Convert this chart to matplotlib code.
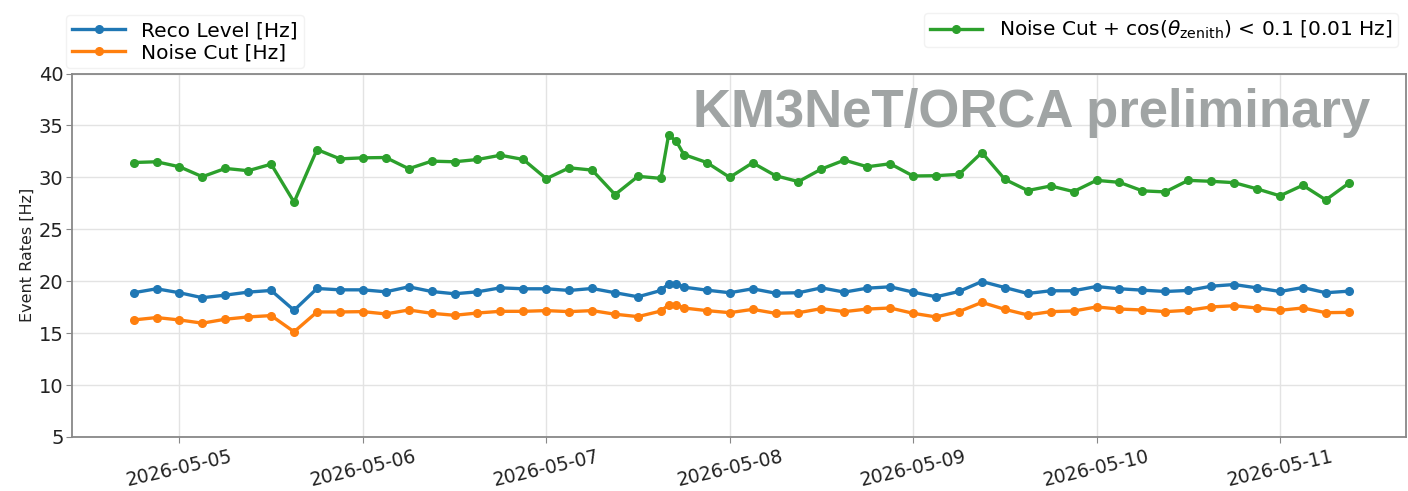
import matplotlib
matplotlib.use("Agg")
import matplotlib.pyplot as plt
import matplotlib.dates as mdates
import pandas as pd
import numpy as np

# --- data ---------------------------------------------------------------
times_a = pd.date_range("2026-05-04 18:00", "2026-05-07 15:00", freq="3h")
times_b = pd.to_datetime(["2026-05-07 16:00", "2026-05-07 17:00"])
times_c = pd.date_range("2026-05-07 18:00", "2026-05-11 09:00", freq="3h")
times = times_a.append(times_b).append(times_c)

reco_level = [18.89, 19.27, 18.89, 18.41, 18.66, 18.95, 19.11, 17.20, 19.30, 19.17,
              19.17, 18.98, 19.46, 19.01, 18.79, 18.98, 19.36, 19.27, 19.27, 19.11,
              19.30, 18.89, 18.50, 19.11, 19.75, 19.75, 19.43, 19.14, 18.89, 19.27,
              18.85, 18.89, 19.36, 18.95, 19.33, 19.46, 18.95, 18.50, 19.01, 19.97,
              19.39, 18.82, 19.08, 19.08, 19.49, 19.27, 19.14, 19.01, 19.11, 19.52,
              19.68, 19.36, 19.01, 19.39, 18.89, 19.04]

noise_cut = [16.27, 16.50, 16.27, 15.96, 16.34, 16.56, 16.69, 15.13, 17.04, 17.04,
             17.07, 16.85, 17.23, 16.91, 16.72, 16.94, 17.10, 17.10, 17.17, 17.07,
             17.17, 16.82, 16.59, 17.13, 17.71, 17.71, 17.42, 17.17, 16.97, 17.29,
             16.91, 16.97, 17.36, 17.07, 17.32, 17.42, 16.91, 16.56, 17.07, 17.96,
             17.29, 16.75, 17.07, 17.13, 17.52, 17.32, 17.23, 17.07, 17.20, 17.52,
             17.64, 17.42, 17.20, 17.42, 16.97, 17.00]

noise_cut_zenith = [31.43, 31.50, 31.02, 30.06, 30.86, 30.64, 31.27, 27.61, 32.68, 31.78,
                    31.88, 31.91, 30.83, 31.56, 31.50, 31.72, 32.13, 31.72, 29.87, 30.92,
                    30.70, 28.34, 30.10, 29.90, 34.04, 33.50, 32.20, 31.43, 30.00, 31.40,
                    30.16, 29.59, 30.80, 31.66, 31.02, 31.31, 30.13, 30.16, 30.29, 32.39,
                    29.81, 28.73, 29.17, 28.63, 29.71, 29.52, 28.70, 28.60, 29.71, 29.62,
                    29.49, 28.89, 28.22, 29.24, 27.83, 29.43]

labels = ["Reco Level [Hz]", "Noise Cut [Hz]",
          r"Noise Cut + cos($\theta_{\rm zenith}$) < 0.1 [0.01 Hz]"]
y_ticks = [5, 10, 15, 20, 25, 30, 35, 40]

# --- plot ---------------------------------------------------------------
fig = plt.figure(figsize=(14.08, 4.91), dpi=100)
ax = fig.add_axes([0.0511, 0.110, 0.9475, 0.7403])

l1, = ax.plot(times, reco_level, "-o", color="#1f77b4", lw=2.4, ms=5.5, label=labels[0])
l2, = ax.plot(times, noise_cut, "-o", color="#ff7f0e", lw=2.4, ms=5.5, label=labels[1])
l3, = ax.plot(times, noise_cut_zenith, "-o", color="#2ca02c", lw=2.4, ms=5.5, label=labels[2])

ax.set_ylim(5, 40)
ax.set_yticks(y_ticks)
ax.set_xlim(pd.Timestamp("2026-05-04 09:56"), pd.Timestamp("2026-05-11 16:30"))
ax.xaxis.set_major_locator(mdates.DayLocator())
ax.xaxis.set_major_formatter(mdates.DateFormatter("%Y-%m-%d"))
ax.tick_params(axis="y", labelsize=14, colors="#222222", length=4, pad=2)
ax.tick_params(axis="x", labelsize=13.5, colors="#222222", length=4, pad=3)
ax.tick_params(axis="both", color="#888888")
for lab in ax.get_xticklabels():
    lab.set_rotation(13)
    lab.set_ha("center")
ax.grid(True, color="#e3e3e3", lw=1.0)
for s in ax.spines.values():
    s.set_color("#888888")
    s.set_linewidth(1.3)
ax.set_ylabel("Event Rates [Hz]", fontsize=11.5, color="#222222", labelpad=3)

ax.text(0.973, 0.8516, "KM3NeT/ORCA preliminary", transform=ax.transAxes,
        ha="right", va="baseline", fontsize=38, fontweight="bold",
        color="#a0a4a4", family="Liberation Sans")

fig.legend(handles=[l1, l2], loc="upper left", bbox_to_anchor=(0.04, 0.99),
           fontsize=14.5, frameon=True, handlelength=2.6, borderpad=0.3,
           labelspacing=0.15, edgecolor="#f2f2f2", framealpha=1.0)
fig.legend(handles=[l3], loc="upper right", bbox_to_anchor=(1.0, 0.995),
           fontsize=14.5, frameon=True, handlelength=2.6, borderpad=0.3,
           edgecolor="#f2f2f2", framealpha=1.0)

fig.savefig("out.png", dpi=100)
